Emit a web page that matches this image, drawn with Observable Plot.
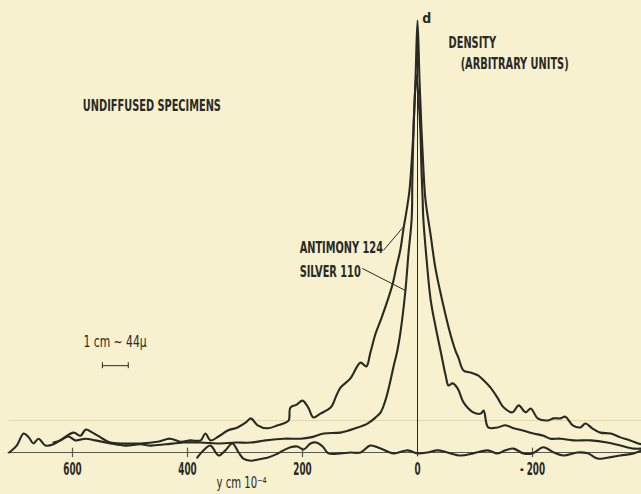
<!DOCTYPE html>
<html><head><meta charset="utf-8">
<script src="https://cdn.jsdelivr.net/npm/d3@7"></script>
<script src="https://cdn.jsdelivr.net/npm/@observablehq/plot@0.6"></script>
<style>
html,body{margin:0;padding:0;background:#f7f1d0;overflow:hidden;}
</style></head><body><div id="chart"></div>
<script>
// position y (cm x 10^-4) and density (arbitrary units)
const antimonyX = [710,697,685,676,668,659,647,633,617,598,586,577,565,556,534,516,482,452,430,412,395,377,369,360,346,330,313,299,290,278,261,243,233,224,221,210,200,190,181,169,151,141,134,117,99,89,82,73,63,52,43,37,30,24,19,14,10,7,3.5,0,-3.5,-7,-10.4,-14,-23,-31,-43,-57,-66,-71,-80,-92,-106,-115,-127,-139,-150,-165,-176,-188,-197,-209,-226,-237,-249,-257,-270,-283,-292,-304,-318,-336,-353,-370,-384,-390];
const antimonyD = [0,1.6,4.4,3.5,2.1,3.2,1.6,1.9,3.2,4.6,3.9,5.3,4.6,3.9,2.3,2.1,2.1,2.5,3.2,2.5,2.8,2.8,4.4,2.8,3.7,5.1,5.8,6.9,7.9,6.3,5.6,6.3,6.7,7.4,10.4,11.1,12.0,10.4,8.1,9.0,10.4,13.2,15.0,17.1,20.8,19.9,23.1,27.5,31.0,35.2,39.1,42.8,46.8,52.1,56.0,60.6,67.6,74.5,86.1,100,86.1,74.5,65.3,58.3,50.2,42.8,35.2,27.5,23.6,22.0,19.0,18.5,17.8,16.7,15.0,12.7,10.4,9.3,10.9,9.3,10.2,7.9,7.4,7.9,7.9,8.3,6.3,5.8,6.7,5.6,4.6,4.4,3.5,2.8,2.1,1.9];

const silverX = [633,621,607,595,577,560,534,508,482,464,438,407,377,348,316,290,264,233,203,186,163,134,108,87,73,64,56,49,42,35,30,21,16,10,9,7,5,2,-2,-5,-7,-9,-10,-16,-23,-31,-40,-49,-54,-61,-70,-80,-97,-110,-115,-123,-139,-153,-167,-183,-202,-219,-231,-249,-271,-301,-330,-353,-376,-390];
const silverD = [2.3,2.8,3.7,2.8,3.2,2.8,2.1,1.6,1.9,1.6,1.9,2.3,2.3,2.1,2.3,2.3,2.8,3.2,3.2,3.5,4.4,4.6,5.6,6.7,8.1,9.3,12.0,15.5,19.7,23.6,27.5,37.5,45.6,54.4,63.0,74.5,81.5,87.3,81.5,74.5,65.3,58.3,54.4,44.4,35.2,29.4,23.6,17.8,15.5,16.0,14.8,11.6,9.3,9.0,9.7,5.8,5.8,6.3,5.6,5.1,4.4,3.9,3.2,3.2,2.8,2.8,2.3,1.6,0.9,0.9];

const backgroundX = [383,372,360,346,334,322,311,303,290,277,261,247,233,221,209,198,186,176,165,155,134,117,99,82,64,42,17,0,-17,-35,-52,-75,-97,-122,-139,-153,-167,-184,-200,-219,-237,-254,-278,-296,-313,-330,-353,-376,-390];
const backgroundD = [-1.2,0.5,1.6,-0.7,0.5,2.1,0,-1.4,-1.9,-1.6,-1.2,-0.5,0.5,1.2,1.4,0.7,2.1,2.3,1.4,-0.2,-0.2,0,0,1.6,0.9,-0.2,0.5,-0.2,0,0.5,0,-0.7,-0.2,0.5,-0.2,0.5,0.9,-0.2,-0.2,1.2,0,-0.7,0,-0.2,-1.4,-1.2,-0.7,-0.2,0.5];

const tickValues = [600, 400, 200, 0, -200];
const tickLabels = ["600", "400", "200", "0", "- 200"];

// annotations
const annoText = ["UNDIFFUSED SPECIMENS", "DENSITY", "(ARBITRARY UNITS)", "ANTIMONY 124", "SILVER 110"];
const annoX = [582, -54, -75, 205, 205];
const annoY = [80.2, 94.8, 89.9, 47.3, 41.9];

const scaleText = "1 cm ~ 44μ";
const axisTitle = "y cm 10⁻⁴";
const peakLabel = "d";

const ink = "#2a2923";
const toRows = (xs, ds) => xs.map((x, i) => ({x, d: ds[i]}));

const font = "'DejaVu Sans Condensed', 'DejaVu Sans', sans-serif";

const node = Plot.plot({
  width: 641,
  height: 494,
  marginTop: 0, marginRight: 0, marginLeft: 0, marginBottom: 42,
  style: {background: "#f7f1d0", fontFamily: font, color: ink},
  x: {domain: [600, -200], range: [72, 532]},
  y: {domain: [0, 100], range: [452, 20], axis: null},
  marks: [
    Plot.ruleY([7.4], {x1: 710, x2: -390, stroke: "#e0d7ab", strokeWidth: 1}),
    Plot.ruleY([0], {x1: 712, x2: -392, stroke: "#5a574c", strokeWidth: 1.2}),
    Plot.ruleX(tickValues.filter(v => v !== 0), {y1: -1.2, y2: 1.0, stroke: "#5a574c", strokeWidth: 1.2}),
    Plot.ruleX([0], {y1: -1, y2: 99, stroke: ink, strokeWidth: 1}),
    Plot.axisX(tickValues, {anchor: "bottom", tickSize: 0, tickPadding: 10, label: null,
      tickFormat: d => tickLabels[tickValues.indexOf(d)], fontSize: 17.5, fontWeight: "bold", fontFamily: font, color: ink}),
    Plot.line(toRows(backgroundX, backgroundD), {x: "x", y: "d", curve: "catmull-rom", stroke: ink, strokeWidth: 2.1}),
    Plot.line(toRows(silverX, silverD), {x: "x", y: "d", curve: "catmull-rom", stroke: ink, strokeWidth: 2.1}),
    Plot.line(toRows(antimonyX, antimonyD), {x: "x", y: "d", curve: "catmull-rom", stroke: ink, strokeWidth: 2.1}),
    Plot.link([0], {x1: 59, y1: 46.8, x2: 24, y2: 52.3, stroke: ink, strokeWidth: 1}),
    Plot.link([0], {x1: 96, y1: 42.6, x2: 21, y2: 37.5, stroke: ink, strokeWidth: 1}),
    Plot.link([0], {x1: 548, y1: 20.1, x2: 503, y2: 20.1, stroke: ink, strokeWidth: 1}),
    Plot.ruleX([548, 503], {y1: 19.4, y2: 20.8, stroke: ink, strokeWidth: 1}),
    Plot.text(annoText, {x: (d, i) => annoX[i], y: (d, i) => annoY[i], text: d => d, textAnchor: "start",
      fontSize: 16.5, fontWeight: "bold", fill: ink}),
    Plot.text([scaleText], {x: 581, y: 25.6, text: d => d, textAnchor: "start", fontSize: 16, fill: ink}),
    Plot.text([axisTitle], {x: 306, y: -7.2, text: d => d, textAnchor: "middle", fontSize: 15, fill: ink}),
    Plot.text([peakLabel], {x: -16, y: 100.5, text: d => d, textAnchor: "middle", fontSize: 14, fontWeight: "bold", fill: ink})
  ]
});
document.getElementById("chart").append(node);

// condensed lettering like the original stencil text
d3.select(node).selectAll("text").each(function() {
  const t = this.textContent;
  if (!t || t === "d") return;
  let f = 0.66;
  if (/^[-\s\d]+$/.test(t)) f = 0.56;
  else if (/cm/.test(t)) f = 0.75;
  const L = this.getComputedTextLength();
  this.setAttribute("textLength", L * f);
  this.setAttribute("lengthAdjust", "spacingAndGlyphs");
});
</script>
</body></html>
